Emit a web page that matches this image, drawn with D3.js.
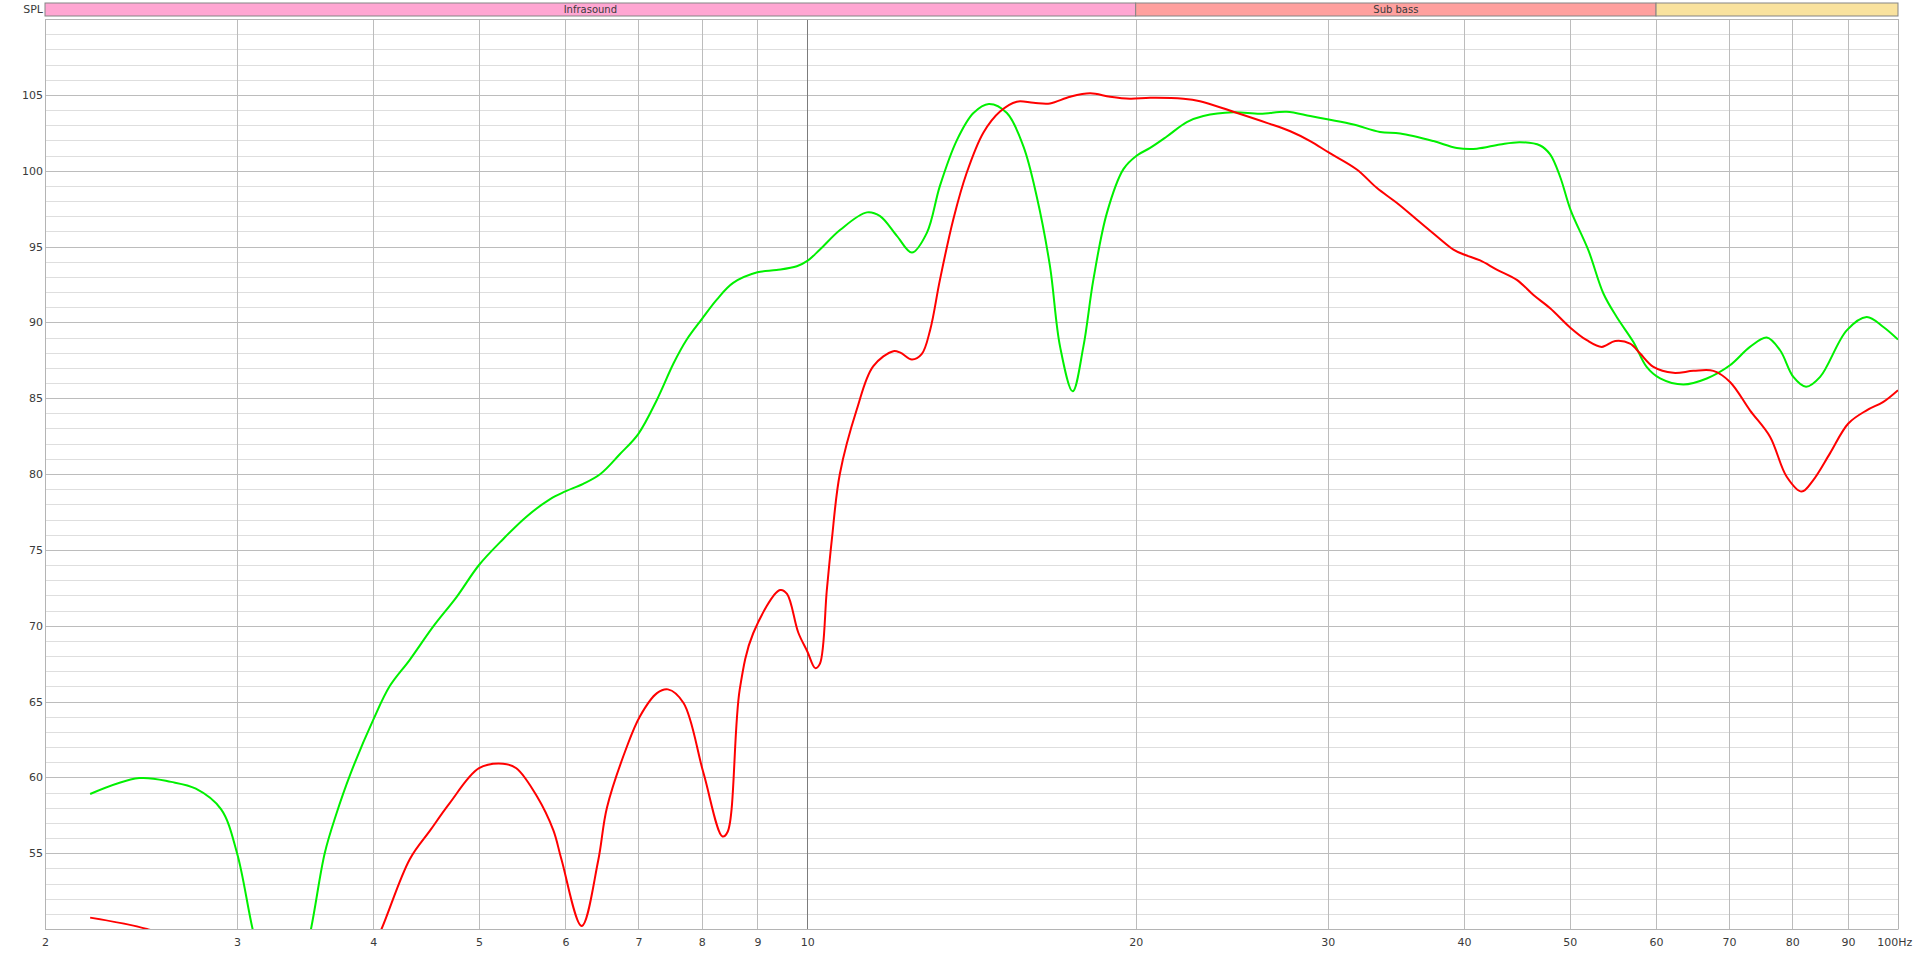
<!DOCTYPE html>
<html>
<head>
<meta charset="utf-8">
<script src="https://cdn.jsdelivr.net/npm/d3@7"></script>
<style>
    body { margin: 0; background: #ffffff; }
    svg { display: block; font-family: "DejaVu Sans", sans-serif; }
</style>
</head>
<body>
<svg id="vis" width="1920" height="955"></svg>
<script>
var MARGINS = {top: 19, right: 22, bottom: 26, left: 45};
var width = 1920;
var height = 955;

// axis ticks
var freqTicks = [2, 3, 4, 5, 6, 7, 8, 9, 10, 20, 30, 40, 50, 60, 70, 80, 90, 100];
var freqLabels = ["2", "3", "4", "5", "6", "7", "8", "9", "10", "20", "30", "40", "50", "60", "70", "80", "90", "100Hz"];
var splTicks = [55, 60, 65, 70, 75, 80, 85, 90, 95, 100, 105];

// frequency bands along the top
var bandNames = ["Infrasound", "Sub bass", ""];
var bandStart = [2, 20, 60];
var bandEnd = [20, 60, 100];
var bandColors = ["#ffa6d2", "#ffa09e", "#f9e29e"];

// green measurement (Hz, dB)
var greenFreq = [2.2, 2.44, 2.61, 2.75, 2.9, 3.0, 3.1, 3.2, 3.35, 3.5, 3.61, 3.7, 3.81, 4.0, 4.14, 4.32, 4.54, 4.77,
    5.0, 5.26, 5.53, 5.81, 6.0, 6.23, 6.46, 6.73, 7.0, 7.28, 7.54, 7.75, 8.0, 8.26, 8.55, 9.0, 9.37, 9.78, 10.0, 10.27,
    10.72, 11.34, 11.66, 12.08, 12.47, 12.87, 13.23, 13.71, 14.2, 14.67, 15.24, 15.78, 16.23, 16.69, 17.05, 17.51,
    17.91, 18.29, 18.82, 19.49, 20.05, 20.62, 21.36, 22.28, 23.07, 24.58, 26.02, 27.51, 28.91, 30.06, 31.68, 33.5,
    34.96, 37.5, 39.4, 41.1, 43.16, 45.03, 46.98, 47.98, 49.0, 50.1, 52.02, 53.69, 55.22, 57.2, 58.82, 60.52, 63.56,
    66.78, 70.14, 73.16, 75.8, 77.96, 80.18, 82.36, 84.84, 89.74, 93.6, 96.96, 100];
var greenSpl = [58.9, 59.95, 59.7, 59.25, 57.9, 55.0, 50.0, 46.0, 44.0, 49.7, 55.0, 57.6, 60.2, 63.8, 66.0, 67.75, 69.95, 71.9,
    74.0, 75.7, 77.2, 78.35, 78.85, 79.35, 80.0, 81.3, 82.65, 84.9, 87.3, 88.85, 90.2, 91.5, 92.6, 93.3, 93.45, 93.7, 94.05, 94.8,
    96.1, 97.25, 97.0, 95.7, 94.6, 95.9, 99.0, 102.0, 103.8, 104.4, 103.8, 101.6, 98.3, 93.7, 88.4, 85.45,
    88.4, 92.8, 97.2, 100.1, 101.0, 101.5, 102.25, 103.2, 103.6, 103.85, 103.75, 103.88, 103.6, 103.37, 103.04, 102.55,
    102.45, 101.95, 101.5, 101.45, 101.73, 101.88, 101.66, 101.07, 99.6, 97.4, 94.74, 91.9, 90.35, 88.7, 87.06, 86.3, 85.9,
    86.3, 87.17, 88.38, 89.0, 88.16, 86.4, 85.75, 86.4, 89.47, 90.35, 89.69, 88.86];

// red measurement (Hz, dB)
var redFreq = [2.2, 2.48, 2.7, 3.0, 3.5, 3.9, 4.07, 4.32, 4.51, 4.7, 5.0, 5.26, 5.41, 5.65, 5.85, 5.95, 6.21, 6.43, 6.55,
    6.83, 7.02, 7.28, 7.45, 7.7, 8.03, 8.36, 8.45, 8.67, 8.92, 9.44, 9.58, 9.81, 10.0, 10.17, 10.27, 10.42, 10.53, 10.71,
    11.1, 11.49, 11.99, 12.17, 12.47, 12.73, 12.96, 13.23, 13.61, 14.0, 14.5, 15.02, 15.56, 16.12, 16.69, 17.41, 18.17,
    18.95, 19.76, 20.62, 22.12, 22.91, 24.58, 26.38, 27.72, 28.91, 30.06, 31.9, 33.27, 34.7, 36.2, 37.76, 39.12, 40.0,
    41.39, 42.86, 44.72, 46.32, 47.98, 50.07, 51.84, 53.5, 55.04, 56.8, 58.02, 59.67, 62.23, 64.93, 67.72, 70.14, 73.16,
    76.32, 79.06, 81.6, 83.62, 86.62, 90.04, 93.6, 96.96, 100];
var redSpl = [50.75, 50.0, 49.0, 46.0, 44.0, 47.0, 50.0, 54.6, 56.5, 58.3, 60.6, 60.9, 60.6, 58.75, 56.5, 54.6, 50.2, 54.5, 58.0,
    62.0, 64.0, 65.55, 65.8, 64.9, 60.3, 56.1, 56.4, 65.8, 69.5, 72.35, 72.1, 69.55, 68.3, 67.2, 67.5, 72.35, 75.65, 80.0,
    84.25, 87.1, 88.1, 88.0, 87.55, 87.9, 89.5, 92.8, 96.8, 99.86, 102.5, 103.9, 104.55, 104.47, 104.43, 104.87, 105.1,
    104.87, 104.74, 104.8, 104.74, 104.58, 103.88, 103.15, 102.6, 101.95, 101.2, 100.08, 98.87, 97.88, 96.78, 95.68, 94.8, 94.47,
    94.08, 93.48, 92.8, 91.8, 90.93, 89.65, 88.82, 88.38, 88.77, 88.6, 87.94, 87.06, 86.67, 86.8, 86.8, 86.07, 84.2,
    82.46, 79.82, 78.84, 79.6, 81.36, 83.33, 84.2, 84.76, 85.53];

window.onload = run;

function run() {
    var display = d3.select("#vis");
    var xScale, yScale;

    setupScales();
    drawGrid();
    drawBands();
    drawCurves();
    drawLabels();

    function setupScales() {
        xScale = d3.scaleLog()
            .domain([2, 100])
            .range([MARGINS.left, width - MARGINS.right]);
        yScale = d3.scaleLinear()
            .domain([50, 110])
            .range([height - MARGINS.bottom, MARGINS.top]);
    }

    // 1 dB grid, darker every 5 dB, vertical lines at the frequency ticks
    function drawGrid() {
        var dbLines = d3.range(50, 111);
        display.append("g")
            .selectAll("line")
            .data(dbLines)
            .join("line")
            .attr("x1", MARGINS.left)
            .attr("x2", width - MARGINS.right)
            .attr("y1", d => Math.round(yScale(d)) + 0.5)
            .attr("y2", d => Math.round(yScale(d)) + 0.5)
            .attr("stroke", d => d % 5 === 0 ? "#bcbcbc" : "#dedede")
            .attr("stroke-width", 1);

        display.append("g")
            .selectAll("line")
            .data(freqTicks)
            .join("line")
            .attr("x1", d => Math.round(xScale(d)) + 0.5)
            .attr("x2", d => Math.round(xScale(d)) + 0.5)
            .attr("y1", MARGINS.top)
            .attr("y2", height - MARGINS.bottom)
            .attr("stroke", d => d === 10 ? "#7c7c7c" : "#bcbcbc")
            .attr("stroke-width", 1);
    }

    function drawBands() {
        var bandTop = 3, bandHeight = 13;
        var band = display.append("g")
            .selectAll("g")
            .data(bandNames)
            .join("g");

        band.append("rect")
            .attr("x", (d, i) => xScale(bandStart[i]))
            .attr("y", bandTop)
            .attr("width", (d, i) => xScale(bandEnd[i]) - xScale(bandStart[i]))
            .attr("height", bandHeight)
            .attr("fill", (d, i) => bandColors[i])
            .attr("stroke", "#858585")
            .attr("stroke-width", 1);

        band.append("text")
            .attr("x", (d, i) => (xScale(bandStart[i]) + xScale(bandEnd[i])) / 2)
            .attr("y", bandTop + bandHeight / 2)
            .attr("dy", "0.35em")
            .attr("text-anchor", "middle")
            .style("font-size", "10px")
            .attr("fill", "#3a3a3a")
            .text(d => d);
    }

    function drawCurves() {
        display.append("clipPath")
            .attr("id", "plotclip")
            .append("rect")
            .attr("x", MARGINS.left)
            .attr("y", MARGINS.top)
            .attr("width", width - MARGINS.left - MARGINS.right)
            .attr("height", height - MARGINS.top - MARGINS.bottom);

        // smooth curve through the read points, in screen space of the log axis
        var line = d3.line()
            .x(d => xScale(d[0]))
            .y(d => yScale(d[1]))
            .curve(d3.curveCatmullRom.alpha(0.5));

        var curves = display.append("g").attr("clip-path", "url(#plotclip)");

        curves.append("path")
            .datum(d3.zip(greenFreq, greenSpl))
            .attr("d", line)
            .attr("fill", "none")
            .attr("stroke", "#00f000")
            .attr("stroke-width", 2);

        curves.append("path")
            .datum(d3.zip(redFreq, redSpl))
            .attr("d", line)
            .attr("fill", "none")
            .attr("stroke", "#ff0000")
            .attr("stroke-width", 2);
    }

    function drawLabels() {
        // x axis labels
        var xAxis = d3.axisBottom(xScale)
            .tickValues(freqTicks)
            .tickSize(0)
            .tickPadding(9)
            .tickFormat((d, i) => freqLabels[i]);

        var gx = display.append("g")
            .attr("transform", `translate(0, ${height - MARGINS.bottom})`)
            .call(xAxis);
        gx.select(".domain").attr("stroke", "#b4b4b4");
        gx.selectAll("text")
            .style("font-family", "DejaVu Sans, sans-serif")
            .style("font-size", "11px")
            .attr("fill", "#3a3a3a")
            .attr("dx", (d, i) => i === freqTicks.length - 1 ? "-0.35em" : 0);

        // y axis labels
        var yAxis = d3.axisLeft(yScale)
            .tickValues(splTicks)
            .tickSize(0)
            .tickPadding(2);

        var gy = display.append("g")
            .attr("transform", `translate(${MARGINS.left}, 0)`)
            .call(yAxis);
        gy.select(".domain").attr("stroke", "#b4b4b4");
        gy.selectAll("text")
            .style("font-family", "DejaVu Sans, sans-serif")
            .style("font-size", "11px")
            .attr("fill", "#3a3a3a");

        // plot frame (top and right)
        display.append("path")
            .attr("d", `M${MARGINS.left},${MARGINS.top + 0.5}H${width - MARGINS.right + 0.5}V${height - MARGINS.bottom}`)
            .attr("fill", "none")
            .attr("stroke", "#b4b4b4");

        display.append("text")
            .attr("x", MARGINS.left - 2)
            .attr("y", 9)
            .attr("dy", "0.35em")
            .attr("text-anchor", "end")
            .style("font-size", "11px")
            .attr("fill", "#3a3a3a")
            .text("SPL");
    }
}
</script>
</body>
</html>
